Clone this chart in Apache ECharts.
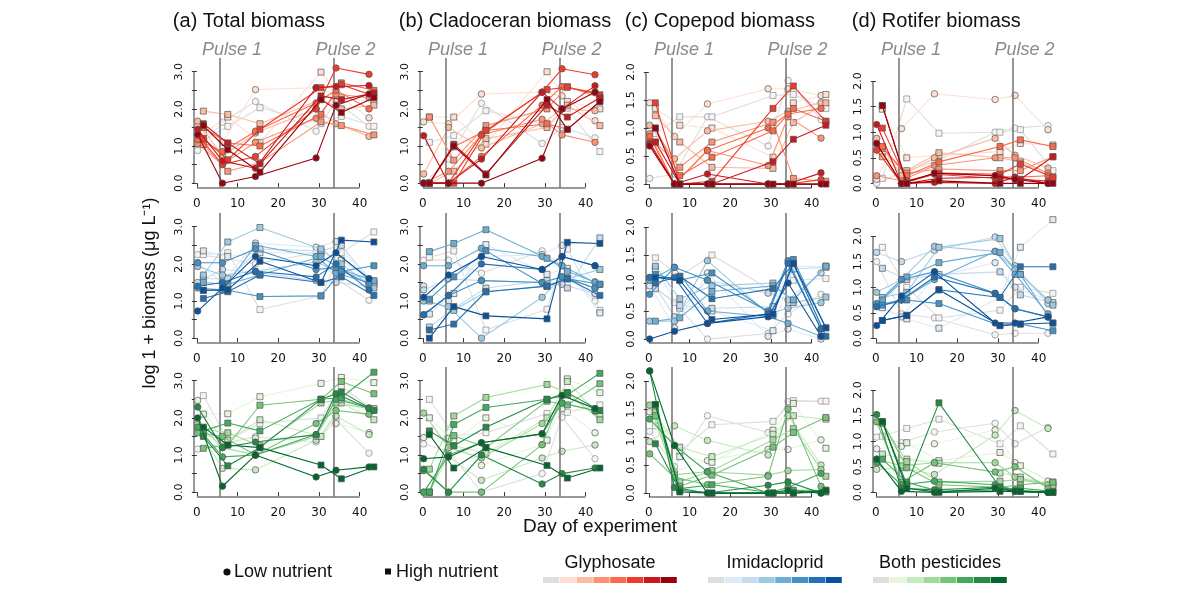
<!DOCTYPE html>
<html>
<head>
<meta charset="utf-8">
<script src="https://cdn.jsdelivr.net/npm/echarts@6/dist/echarts.min.js"></script>
<style>
html,body{margin:0;padding:0;background:#fff;}
#chart{width:1200px;height:600px;}
</style>
</head>
<body>
<div id="chart"></div>
<script>
// sampling days (low nutrient points drawn a bit left, high a bit right)
var DAYS_LOW = [0.2, 6.3, 14.4, 29.3, 34.2, 42.3];
var DAYS_HIGH = [1.6, 7.6, 15.5, 30.5, 35.5, 43.5];
var PULSE_DAYS = [5.7, 33.6];
var X_TICKS = [0, 10, 20, 30, 40];
var TITLES = ['(a) Total biomass', '(b) Cladoceran biomass', '(c) Copepod biomass', '(d) Rotifer biomass'];
var TREATMENTS = ['Glyphosate', 'Imidacloprid', 'Both pesticides'];

// 8 concentration levels, control first
var REDS = ['#dedede', '#fee0d2', '#fcbba1', '#fc9272', '#fb6a4a', '#ef3b2c', '#cb181d', '#99000d'];
var BLUES = ['#dedede', '#deebf7', '#c6dbef', '#9ecae1', '#6baed6', '#4292c6', '#2171b5', '#08519c'];
var GREENS = ['#dedede', '#e5f5e0', '#c7e9c0', '#a1d99b', '#74c476', '#41ab5d', '#238b45', '#00682c'];

// ---- total biomass ----
var totGlyLow = [
 [0.88,1.64,2.2,1.4,2.2,1.53],[1.53,1.1,2.52,2.57,2.4,1.76],[1.67,0.72,1.35,2.0,1.6,1.26],[1.06,0.5,1.1,1.75,2.4,2.3],
 [1.17,0.85,1.4,2.16,2.5,2.0],[1.3,0.5,0.72,2.0,3.1,2.93],[1.45,0.6,0.4,2.57,2.6,2.63],[1.31,0.0,0.18,0.68,2.1,2.4]];
var totGlyHigh = [
 [1.15,1.53,2.03,1.6,1.8,1.53],[1.35,1.78,1.1,2.99,2.3,2.2],[1.94,1.85,1.6,2.25,2.0,2.1],[1.04,0.32,0.55,1.65,1.55,1.3],
 [1.5,1.08,1.0,1.85,2.7,2.5],[1.2,0.63,1.45,2.57,2.65,2.35],[1.6,1.08,0.52,2.35,2.25,2.43],[1.55,0.9,0.3,2.25,1.9,2.3]];
var totImiLow = [
 [2.25,2.16,2.0,2.3,1.6,1.02],[2.03,1.5,2.56,2.45,2.6,1.5],[1.5,1.85,1.78,1.55,1.5,1.4],[1.93,1.7,1.8,2.05,1.8,1.6],
 [1.35,1.3,2.5,2.2,1.75,1.5],[2.03,2.03,2.4,1.85,1.9,1.45],[1.4,1.5,1.8,1.65,2.0,1.3],[0.73,1.35,2.2,1.95,2.3,1.6]];
var totImiHigh = [
 [2.25,2.3,0.77,1.14,2.3,2.86],[2.35,2.2,2.3,2.3,2.1,1.5],[1.6,1.6,2.4,2.35,2.5,1.45],[1.7,2.59,2.98,2.4,2.0,1.35],
 [1.5,1.45,1.7,2.2,1.85,1.55],[1.29,1.29,1.12,1.14,1.8,1.95],[1.07,1.25,1.7,1.5,1.65,1.15],[1.29,1.3,2.07,1.5,2.64,2.59]];
var totBothLow = [
 [1.16,1.3,1.5,1.35,1.95,1.05],[2.47,1.4,1.45,1.5,1.85,1.6],[1.7,0.64,0.6,1.4,2.05,1.55],[1.85,1.2,1.0,1.5,2.4,2.25],
 [1.6,1.5,1.0,1.85,2.2,2.1],[1.75,0.95,1.0,1.55,2.5,2.27],[2.29,1.2,1.35,1.55,2.65,2.25],[2.0,0.16,1.0,0.41,0.59,0.68]];
var totBothHigh = [
 [2.6,1.4,1.85,2.0,2.85,2.2],[2.1,2.11,2.57,2.93,3.09,2.95],[1.55,1.4,1.95,1.5,2.4,1.95],[1.7,1.6,1.25,2.4,2.5,2.25],
 [1.18,1.27,2.34,2.5,2.98,2.65],[1.65,1.86,1.65,2.5,2.55,3.23],[1.5,0.71,1.2,2.5,2.7,2.2],[1.75,1.27,1.2,0.73,0.36,0.68]];

// ---- cladoceran biomass ----
var cladGlyLow = [
 [0.0,0.65,2.15,1.07,1.5,1.22],[1.65,1.6,2.4,2.45,2.35,1.68],[0.25,1.5,0.95,1.6,2.0,1.95],[0.0,0.32,1.3,1.72,1.3,1.1],
 [0.0,0.0,0.72,2.1,2.6,2.45],[0.0,0.0,1.3,2.45,3.08,2.92],[1.28,0.0,0.65,2.45,2.0,2.62],[0.0,0.0,0.0,0.67,2.0,2.45]];
var cladGlyHigh = [
 [1.1,1.28,1.95,1.58,2.02,0.85],[1.78,1.78,1.05,3.0,2.2,2.0],[0.0,0.32,1.2,1.5,2.1,1.55],[1.78,0.62,1.55,2.0,2.6,2.3],
 [0.0,0.98,1.42,1.6,1.45,2.2],[0.0,0.0,1.42,2.52,2.58,2.38],[0.0,1.05,0.25,2.1,1.78,2.3],[0.0,1.0,0.22,2.25,1.45,2.2]];
var cladImiLow = [
 [2.1,2.1,1.75,2.35,1.95,1.0],[1.4,1.0,2.2,2.25,2.5,1.52],[1.3,1.6,1.55,1.5,1.45,1.2],[1.0,0.85,0.0,1.1,1.65,1.35],
 [1.95,1.95,2.42,2.2,1.95,1.5],[0.63,1.15,1.55,1.5,1.65,1.35],[0.63,1.15,2.0,1.85,2.2,1.95],[1.1,1.7,2.2,1.85,2.2,1.95]];
var cladImiHigh = [
 [2.18,2.35,0.22,0.78,2.4,0.75],[0.65,1.2,2.52,1.72,1.88,0.68],[0.3,0.8,1.35,1.55,1.35,2.7],[1.0,0.75,1.25,1.4,1.6,1.85],
 [2.33,2.55,2.92,2.15,1.8,1.45],[1.05,1.65,2.35,1.4,1.6,1.45],[0.22,0.38,1.25,1.4,1.6,1.15],[0.0,0.85,0.6,0.52,2.58,2.55]];
var cladBothLow = [
 [1.3,1.1,0.0,0.5,2.02,0.9],[1.47,1.45,0.72,1.28,2.25,1.6],[0.0,0.95,0.32,0.92,1.1,1.27],[2.13,1.2,0.92,1.85,2.4,2.18],
 [0.58,0.0,0.0,1.28,2.6,2.25],[0.0,1.0,1.33,1.57,2.4,2.2],[0.62,0.0,1.0,0.22,0.5,0.65],[0.9,0.95,1.33,1.57,2.6,2.25]];
var cladBothHigh = [
 [2.5,1.52,1.6,2.12,2.15,2.35],[2.0,1.38,2.0,1.4,3.05,2.68],[0.0,1.25,1.05,2.0,2.98,2.05],[0.62,2.05,2.55,2.9,2.68,1.95],
 [0.0,1.52,1.2,2.45,2.35,2.92],[0.0,1.82,2.28,2.5,2.62,3.2],[1.65,1.25,1.75,2.5,2.68,2.2],[1.55,0.65,1.2,0.72,0.38,0.65]];

// ---- copepod biomass ----
var copGlyLow = [
 [0.1,0.18,1.2,0.68,1.85,1.15],[1.45,0.85,1.43,1.7,1.7,1.58],[1.05,0.45,0.95,1.12,1.3,1.45],[0.9,0.0,0.6,0.33,1.2,0.82],
 [0.85,0.0,0.6,1.0,1.25,1.35],[0.75,0.0,0.0,0.0,0.0,0.08],[0.72,0.0,0.18,0.0,0.0,0.2],[0.68,0.0,0.0,0.0,0.0,0.0]];
var copGlyHigh = [
 [0.9,1.2,1.2,1.58,1.6,1.35],[1.35,1.05,1.0,0.48,1.45,1.6],[1.22,0.75,0.3,0.28,1.1,1.45],[0.75,0.3,0.75,1.1,0.1,0.05],
 [1.0,0.15,0.48,0.95,1.35,1.12],[1.45,0.0,0.05,1.35,1.75,1.12],[0.75,0.0,0.0,0.4,0.8,1.05],[1.0,0.0,0.0,0.0,0.0,0.0]];
var copImiLow = [
 [1.0,0.65,0.0,0.1,0.45,0.8],[0.95,0.2,1.18,0.05,0.18,0.0],[1.1,0.4,1.05,0.82,0.7,1.18],[0.32,0.32,1.4,0.45,0.55,0.65],
 [1.05,1.28,0.5,0.4,0.28,0.05],[0.8,1.28,1.05,0.5,1.4,0.18],[1.1,1.1,0.28,0.45,1.35,0.18],[0.0,0.14,0.28,0.4,1.0,0.05]];
var copImiHigh = [
 [1.45,1.12,1.5,0.85,1.05,1.08],[1.25,0.55,0.5,0.15,1.3,1.3],[0.9,0.6,0.55,0.58,1.25,1.28],[1.3,0.72,0.95,1.0,0.65,0.75],
 [0.32,0.38,0.85,0.95,0.7,1.3],[1.15,1.05,1.18,0.42,1.42,0.2],[1.0,1.12,0.72,0.9,1.35,0.05],[1.1,1.05,0.35,0.45,1.35,0.2]];
var copBothLow = [
 [1.1,0.47,1.38,1.08,1.63,1.64],[1.45,0.38,0.58,0.78,0.78,0.95],[0.92,1.2,0.94,0.68,1.38,0.5],[1.57,0.33,0.38,0.32,0.4,0.42],
 [0.7,0.28,0.15,0.3,1.5,0.12],[1.32,0.85,0.38,0.0,0.1,0.35],[2.18,0.1,0.0,0.14,0.2,0.0],[2.18,0.85,0.0,0.0,0.05,0.0]];
var copBothHigh = [
 [1.2,0.75,1.22,1.28,1.65,1.64],[1.45,0.65,0.55,1.12,1.6,0.8],[1.38,0.82,0.65,1.05,1.38,1.32],[1.45,0.2,0.4,0.95,1.15,0.3],
 [1.38,0.12,0.32,0.82,1.08,1.35],[1.58,0.08,0.15,0.0,0.05,0.05],[0.88,0.05,0.0,0.0,0.0,0.02],[1.58,0.02,0.0,0.0,0.0,0.05]];

// ---- rotifer biomass ----
var rotGlyLow = [
 [0.0,0.22,0.42,1.0,1.08,1.13],[0.08,1.07,1.75,1.64,1.72,1.05],[0.88,0.15,0.5,0.88,0.55,0.3],[0.15,0.05,0.35,0.5,0.5,0.2],
 [0.78,0.0,0.2,0.15,0.12,0.15],[0.65,0.0,0.18,0.1,0.08,0.05],[1.15,0.0,0.02,0.0,0.12,0.0],[0.78,0.0,0.2,0.15,0.08,0.0]];
var rotGlyHigh = [
 [0.1,1.65,0.98,1.0,1.05,0.25],[1.45,0.5,0.55,0.62,0.78,0.75],[0.52,0.25,0.6,0.5,0.42,0.12],[0.68,0.2,0.28,0.25,0.25,0.52],
 [0.72,0.15,0.42,0.72,0.85,0.72],[1.08,0.05,0.2,0.18,0.38,0.12],[1.52,0.0,0.1,0.12,0.08,0.52],[1.52,0.0,0.05,0.0,0.0,0.0]];
var rotImiLow = [
 [1.5,0.48,0.4,0.07,0.1,0.1],[0.62,0.42,1.2,1.48,1.0,0.75],[1.68,1.5,1.72,1.98,1.42,0.68],[0.9,1.15,1.8,1.7,1.35,0.75],
 [0.65,0.75,1.15,1.7,1.25,0.48],[0.68,1.15,1.3,0.88,0.58,0.42],[0.62,0.75,1.2,0.88,0.58,0.42],[0.25,0.83,1.3,0.3,0.3,0.42]];
var rotImiHigh = [
 [1.78,1.0,0.4,0.55,1.0,0.88],[0.6,0.38,0.2,0.8,1.78,2.32],[1.37,1.15,1.25,1.3,0.85,0.7],[0.8,0.9,1.78,1.95,1.25,0.65],
 [0.75,1.2,1.48,1.68,1.25,0.3],[0.65,0.75,0.68,0.25,0.28,0.15],[0.35,0.45,0.95,0.8,1.4,1.4],[0.35,0.45,0.95,0.25,0.28,0.3]];
var rotBothLow = [
 [1.08,0.97,1.18,1.35,0.95,1.27],[0.85,0.9,0.95,1.22,0.58,0.22],[0.45,0.48,0.35,1.12,1.6,1.25],[0.65,0.52,0.58,0.58,0.3,0.15],
 [1.38,0.2,0.58,0.4,0.5,0.08],[0.58,0.15,0.22,0.15,0.05,0.0],[1.52,0.08,0.05,0.1,0.02,0.0],[0.65,0.02,0.0,0.08,0.02,0.0]];
var rotBothHigh = [
 [1.1,1.25,1.43,0.95,1.3,0.75],[0.7,0.97,0.62,0.78,0.52,0.2],[0.75,0.65,0.57,0.38,0.3,0.15],[1.35,0.6,0.2,0.22,0.25,0.12],
 [1.38,0.48,0.15,0.1,0.15,0.2],[0.65,0.2,0.02,0.05,0.08,0.02],[1.38,0.15,1.75,0.1,0.02,0.0],[1.38,0.08,0.0,0.02,0.02,0.0]];

// row = pesticide treatment, col = response
var PANEL_DATA = [
 [[totGlyLow, totGlyHigh], [cladGlyLow, cladGlyHigh], [copGlyLow, copGlyHigh], [rotGlyLow, rotGlyHigh]],
 [[totImiLow, totImiHigh], [cladImiLow, cladImiHigh], [copImiLow, copImiHigh], [rotImiLow, rotImiHigh]],
 [[totBothLow, totBothHigh], [cladBothLow, cladBothHigh], [copBothLow, copBothHigh], [rotBothLow, rotBothHigh]]
];
var PALETTES = [REDS, BLUES, GREENS];

// axis set-up per column
var X_MIN = -0.7, X_MAX = 45;
var Y_MIN = [-0.13, -0.13, -0.07, -0.09];
var Y_MAX = [3.37, 3.37, 2.25, 2.45];
var Y_TICKS = [[0,0.5,1,1.5,2,2.5,3], [0,0.5,1,1.5,2,2.5,3], [0,0.5,1,1.5,2], [0,0.5,1,1.5,2]];
var Y_LABELS = [[0,1,2,3], [0,1,2,3], [0,0.5,1,1.5,2], [0,0.5,1,1.5,2]];

var GRID_LEFT = [194, 420, 646, 873];
var GRID_TOP = [58, 213, 367];
var GRID_W = 186, GRID_H = 130;

var chart = echarts.init(document.getElementById('chart'), null, {renderer: 'canvas'});

var grids = [], xAxes = [], yAxes = [], series = [];
var tickFont = 'DejaVu Sans';
var axisCol = '#333';

for (var r = 0; r < 3; r++) {
  for (var c = 0; c < 4; c++) {
    var idx = r * 4 + c;
    grids.push({left: GRID_LEFT[c], top: GRID_TOP[r], width: GRID_W, height: GRID_H, containLabel: false});
    xAxes.push({
      type: 'value', gridIndex: idx, min: X_MIN, max: X_MAX,
      axisLine: {show: false},
      axisTick: {show: true, length: 4, customValues: X_TICKS, lineStyle: {color: axisCol}},
      axisLabel: {show: true, customValues: X_TICKS, margin: 10, fontSize: 12, color: '#111', fontFamily: tickFont},
      splitLine: {show: false}
    });
    yAxes.push({
      type: 'value', gridIndex: idx, min: Y_MIN[c], max: Y_MAX[c],
      axisLine: {show: false},
      axisTick: {show: true, length: 5, customValues: Y_TICKS[c], lineStyle: {color: axisCol}},
      axisLabel: {show: true, customValues: Y_LABELS[c], rotate: 90, margin: 9, fontSize: 11, color: '#111', fontFamily: tickFont,
        formatter: function (v) { return v.toFixed(1); }},
      splitLine: {show: false}
    });

    // R-style axis lines that only span the tick range
    var yTop = Y_TICKS[c][Y_TICKS[c].length - 1];
    series.push({type: 'line', xAxisIndex: idx, yAxisIndex: idx, data: [[X_TICKS[0], Y_MIN[c]], [X_TICKS[X_TICKS.length - 1], Y_MIN[c]]],
      symbol: 'none', clip: false, silent: true, animation: false, z: 1, lineStyle: {color: axisCol, width: 1}});
    series.push({type: 'line', xAxisIndex: idx, yAxisIndex: idx, data: [[X_MIN, 0], [X_MIN, yTop]],
      symbol: 'none', clip: false, silent: true, animation: false, z: 1, lineStyle: {color: axisCol, width: 1}});

    var pal = PALETTES[r];
    var sets = PANEL_DATA[r][c];
    for (var lv = 0; lv < 8; lv++) {
      for (var n = 0; n < 2; n++) {
        var vals = sets[n][lv];
        var days = n === 0 ? DAYS_LOW : DAYS_HIGH;
        var pts = [];
        for (var k = 0; k < vals.length; k++) pts.push([days[k], vals[k]]);
        var s = {
          type: 'line', xAxisIndex: idx, yAxisIndex: idx, data: pts,
          symbol: n === 0 ? 'circle' : 'rect', symbolSize: n === 0 ? 6.5 : 6,
          showAllSymbol: true, silent: true, animation: false, clip: false,
          z: 2 + lv,
          lineStyle: {color: pal[lv], width: 1.1},
          itemStyle: {color: lv === 0 ? '#f4f4f4' : pal[lv], borderColor: lv === 0 ? '#8a8a8a' : '#555', borderWidth: 0.7}
        };
        if (lv === 0 && n === 0) {
          s.markLine = {
            silent: true, symbol: 'none', animation: false,
            label: {show: false},
            lineStyle: {color: '#7a7a7a', width: 1.6, type: 'solid'},
            data: PULSE_DAYS.map(function (d) { return {xAxis: d}; })
          };
        }
        series.push(s);
      }
    }
  }
}

var graphics = [];

// axis titles
graphics.push({type: 'text', x: 150, y: 293, rotation: Math.PI / 2,
  style: {text: 'log 1 + biomass (\u03bcg L\u207b\u00b9)', font: '18px "Liberation Sans"', fill: '#111', textAlign: 'center', textVerticalAlign: 'middle'}});
graphics.push({type: 'text', x: 600, y: 527,
  style: {text: 'Day of experiment', font: '19px "Liberation Sans"', fill: '#111', textAlign: 'center', textVerticalAlign: 'middle'}});

// nutrient legend
graphics.push({type: 'circle', shape: {cx: 227, cy: 572, r: 3.6}, style: {fill: '#111'}});
graphics.push({type: 'text', x: 234, y: 572, style: {text: 'Low nutrient', font: '18px "Liberation Sans"', fill: '#111', textVerticalAlign: 'middle'}});
graphics.push({type: 'rect', shape: {x: 385, y: 568.5, width: 6, height: 6}, style: {fill: '#111'}});
graphics.push({type: 'text', x: 396, y: 572, style: {text: 'High nutrient', font: '18px "Liberation Sans"', fill: '#111', textVerticalAlign: 'middle'}});

// colour ramps
var RAMP_LEFT = [543, 708, 873];
for (var t = 0; t < 3; t++) {
  graphics.push({type: 'text', x: RAMP_LEFT[t] + 67, y: 563,
    style: {text: TREATMENTS[t], font: '18px "Liberation Sans"', fill: '#111', textAlign: 'center', textVerticalAlign: 'middle'}});
  for (var b = 0; b < 8; b++) {
    graphics.push({type: 'rect', shape: {x: RAMP_LEFT[t] + b * 16.8, y: 577, width: 16.2, height: 6}, style: {fill: PALETTES[t][b]}});
  }
}

chart.setOption({
  backgroundColor: '#fff',
  animation: false,
  grid: grids, xAxis: xAxes, yAxis: yAxes, series: series,
  graphic: graphics
});

// panel titles and pulse labels placed through the axes scale
var extra = [];
for (var c2 = 0; c2 < 4; c2++) {
  var x0 = chart.convertToPixel({xAxisIndex: c2}, 0);
  extra.push({type: 'text', x: x0 - 24, y: 21,
    style: {text: TITLES[c2], font: '20px "Liberation Sans"', fill: '#111', textVerticalAlign: 'middle'}});
  for (var p = 0; p < PULSE_DAYS.length; p++) {
    var px = chart.convertToPixel({xAxisIndex: c2}, PULSE_DAYS[p]);
    extra.push({type: 'text', x: px + 12, y: 50,
      style: {text: 'Pulse ' + (p + 1), font: 'italic 18px "Liberation Sans"', fill: '#8a8a8a', textAlign: 'center', textVerticalAlign: 'middle'}});
  }
}
chart.setOption({graphic: graphics.concat(extra)});
</script>
</body>
</html>
